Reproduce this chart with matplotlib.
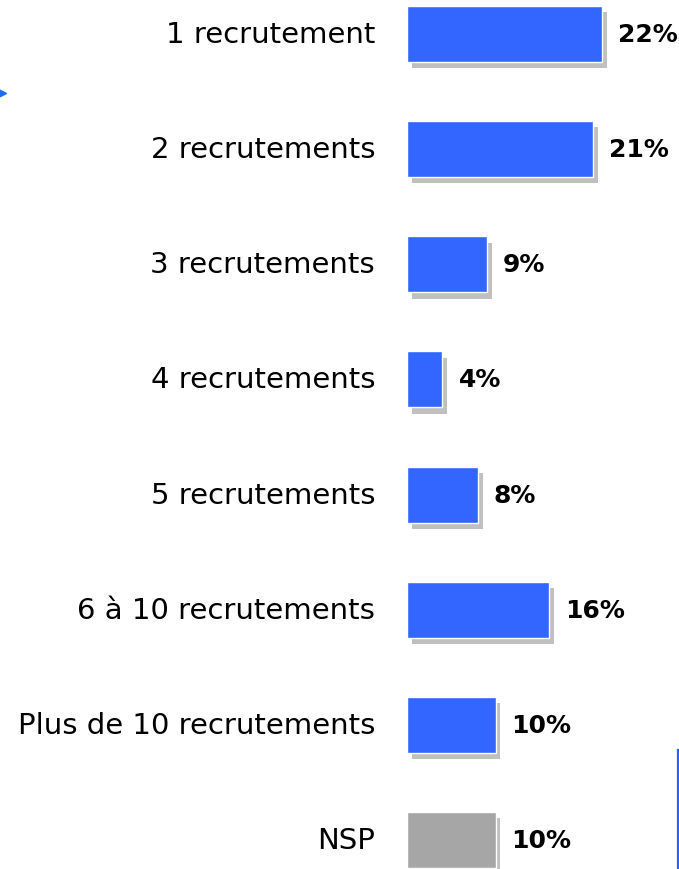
import matplotlib.pyplot as plt
import matplotlib.patheffects as pe
from matplotlib.lines import Line2D

categories = [
    "1 recrutement",
    "2 recrutements",
    "3 recrutements",
    "4 recrutements",
    "5 recrutements",
    "6 à 10 recrutements",
    "Plus de 10 recrutements",
    "NSP",
]
values = [22, 21, 9, 4, 8, 16, 10, 10]
bar_colors = ["#3366ff"] * 7 + ["#a6a6a6"]

W, H = 679, 870
fig = plt.figure(figsize=(W / 100, H / 100), dpi=100)
ax = fig.add_axes([407 / W, 0, (W - 407) / W, 1])

px_per_unit = 8.86
ax.set_xlim(0, (W - 407) / px_per_unit)
step = 115.14
ax.set_ylim(7 + (H - 841) / step, -35 / step)

ypos = list(range(len(categories)))
bars = ax.barh(ypos, values, height=56 / step, color=bar_colors,
               edgecolor="white", linewidth=1.0)
shadow = pe.SimplePatchShadow(offset=(3.5, -4.5), shadow_rgbFace="#c0c0c0", alpha=1.0)
for b in bars:
    b.set_path_effects([shadow, pe.Normal()])

for y, v in zip(ypos, values):
    ax.text(v + 16 / px_per_unit, y, f"{v}%", ha="left", va="center",
            fontsize=18, color="black", fontweight="bold")

ax.set_yticks(ypos)
ax.set_yticklabels(categories, fontsize=21, va="center")
ax.tick_params(axis="y", length=0, pad=23)
ax.tick_params(axis="x", bottom=False, labelbottom=False)
for s in ax.spines.values():
    s.set_visible(False)

# decorations at the edges
fig.add_artist(Line2D([678 / W, 678 / W], [0, 1 - 751 / H], color="#1a6cff", linewidth=1.6))
fig.add_artist(Line2D([2 / W], [1 - 94 / H], marker=">", markersize=6,
                      color="#1a6cff", linestyle="none"))

fig.savefig("out.png", dpi=100)
